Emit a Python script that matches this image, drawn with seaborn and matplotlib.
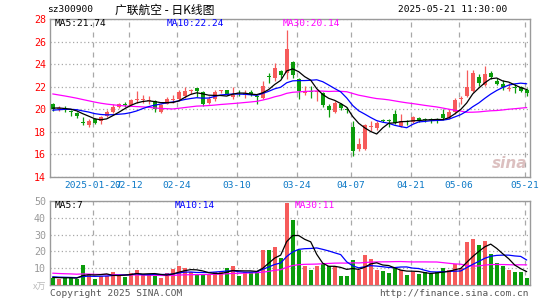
import numpy as np
import pandas as pd
import matplotlib
matplotlib.use("Agg")
import matplotlib.pyplot as plt
import seaborn as sns

sns.set_theme(style="white")
plt.rcParams["font.family"] = ["DejaVu Sans Mono", "Noto Sans CJK SC"]

# daily candles, 2025-01-16 .. 2025-05-21
opens = [20.45, 20.05, 20.05, 19.85, 19.7, 18.85, 18.6, 19.1, 19.0, 19.4,
         19.8, 20.2, 20.45, 20.4, 20.85, 20.8, 20.75, 20.75, 19.8, 20.5,
         20.85, 20.95, 21.2, 21.65, 21.85, 21.55, 20.6, 20.9, 21.6, 21.7,
         21.05, 21.45, 21.3, 21.5, 21.15, 21.0, 22.9, 22.8, 23.4, 23.2,
         24.2, 22.65, 21.45, 21.6, 21.5, 21.4, 20.3, 19.8, 20.5, 20.0,
         18.4, 16.45, 16.45, 18.4, 18.3, 19.05, 19.0, 19.55, 18.55, 18.95,
         18.85, 19.25, 19.1, 19.1, 19.1, 19.6, 19.25, 19.75, 20.95, 21.2,
         21.6, 22.85, 22.15, 23.25, 22.55, 22.25, 21.8, 21.95, 22.0, 21.75]
highs = [20.6, 20.3, 20.25, 19.9, 19.8, 19.3, 19.1, 19.25, 19.4, 19.9,
         20.45, 20.6, 20.65, 20.9, 21.6, 21.25, 21.2, 20.8, 20.45, 21.1,
         21.3, 21.75, 22.0, 21.8, 21.9, 21.65, 21.2, 21.75, 21.75, 21.75,
         22.0, 21.7, 21.7, 21.75, 21.3, 22.5, 23.25, 24.1, 23.5, 27.05,
         24.3, 22.75, 22.05, 22.1, 21.75, 21.5, 20.45, 20.75, 20.6, 20.2,
         19.0, 17.5, 18.7, 18.97, 19.0, 19.1, 19.1, 19.95, 19.55, 19.05,
         19.4, 19.35, 19.25, 19.25, 19.25, 20.0, 20.0, 21.0, 21.2, 23.45,
         23.45, 23.1, 23.8, 23.4, 22.8, 22.6, 22.35, 22.2, 22.1, 21.9]
lows = [19.85, 19.85, 19.75, 19.4, 19.2, 18.6, 18.45, 18.7, 18.7, 19.3,
        19.7, 20.1, 20.2, 20.3, 20.6, 20.6, 20.5, 19.8, 19.7, 20.45,
        20.55, 20.75, 21.0, 21.35, 21.05, 20.3, 20.45, 20.7, 21.4, 21.25,
        20.95, 21.2, 21.0, 21.2, 20.45, 20.9, 22.35, 22.5, 22.75, 22.65,
        22.8, 20.9, 21.3, 21.0, 20.7, 20.2, 19.3, 19.7, 19.95, 19.7,
        15.9, 16.3, 16.4, 18.1, 18.2, 18.85, 18.45, 18.7, 18.45, 18.65,
        18.75, 18.9, 18.9, 18.75, 18.75, 19.05, 19.1, 19.6, 20.5, 21.1,
        21.55, 22.05, 22.05, 22.65, 22.15, 21.75, 21.6, 21.4, 21.5, 21.2]
closes = [20.05, 20.1, 19.95, 19.8, 19.4, 18.8, 19.0, 18.8, 19.35, 19.8,
          20.2, 20.5, 20.4, 20.8, 20.9, 20.85, 20.8, 20.05, 20.35, 20.9,
          20.9, 21.5, 21.6, 21.7, 21.6, 20.45, 20.9, 21.5, 21.65, 21.35,
          21.3, 21.4, 21.45, 21.25, 21.1, 22.1, 22.85, 23.7, 23.05, 25.3,
          23.0, 21.6, 21.5, 21.5, 21.55, 20.4, 19.9, 20.6, 20.1, 19.9,
          16.3, 16.9, 18.6, 18.45, 18.8, 19.0, 18.95, 18.8, 18.95, 18.9,
          19.3, 19.05, 19.05, 19.05, 19.05, 19.25, 19.8, 20.8, 21.0, 21.95,
          23.25, 22.35, 23.15, 22.85, 22.25, 21.95, 21.85, 21.9, 21.65, 21.4]
# volume, 10k lots
vol = [4.4, 3.6, 4.4, 4.4, 3.6, 11.9, 6.3, 3.6, 5.6, 5.6,
       7.7, 5.6, 5.0, 6.9, 8.9, 6.3, 6.3, 5.6, 4.4, 6.9,
       9.5, 11.5, 10.3, 7.5, 6.3, 6.3, 6.3, 7.9, 7.5, 9.9,
       11.5, 5.6, 7.5, 7.5, 8.3, 20.8, 20.8, 22.8, 16.3, 48.6,
       38.7, 20.8, 11.5, 8.9, 11.5, 12.3, 11.5, 11.5, 5.6, 5.6,
       14.9, 8.9, 17.9, 15.5, 8.9, 8.3, 7.3, 10.9, 8.9, 6.0,
       7.9, 6.5, 7.5, 6.3, 7.9, 9.9, 8.9, 12.3, 10.3, 25.8,
       27.4, 23.8, 26.2, 18.5, 13.1, 11.5, 8.9, 7.5, 7.5, 4.4]
# sessions before the window, estimated so the moving averages start where they do
prev_close = [22.8, 22.6, 22.7, 22.5, 22.3, 22.4, 22.2, 22.3, 22.2,
              22.0, 22.1, 21.9, 21.8, 21.6, 21.7, 21.9, 21.8, 21.6, 21.5, 21.7,
              19.7, 19.6, 19.8, 19.7, 19.9, 20.0, 20.2, 20.1, 20.15]
prev_vol = [9.5, 8.2, 7.6, 8.8, 7.4, 9.1, 8.0, 7.2, 8.5, 7.9,
            8.3, 7.7, 8.6, 7.5, 8.1, 7.8, 8.4, 7.6, 7.7, 8.1,
            5.8, 5.2, 5.5, 4.9, 5.1, 4.2, 4.8, 4.5, 4.6]

tick_idx = [7, 13, 21, 31, 41, 50, 60, 68, 79]
tick_labels = ["2025-01-27", "02-12", "02-24", "03-10", "03-24",
               "04-07", "04-21", "05-06", "05-21"]

RED = "#f65b5b"
GREEN = "#0b9c0b"
GRID = "#a8a8a8"
FRAME = "#9a9a9a"

df = pd.DataFrame({"idx": np.arange(len(closes)), "o": opens, "h": highs,
                   "l": lows, "c": closes, "vol": vol})
df["dir"] = np.where(df.c >= df.o, "up", "down")
full_c = pd.Series(prev_close + closes)
full_v = pd.Series(prev_vol + vol)
for w in (5, 10, 30):
    df[f"ma{w}"] = full_c.rolling(w).mean().iloc[len(prev_close):].values
    df[f"vma{w}"] = full_v.rolling(w).mean().iloc[len(prev_vol):].values

W, H = 545, 300
fig = plt.figure(figsize=(W / 100, H / 100), dpi=100)
fig.patch.set_facecolor("white")
ax = fig.add_axes([50 / W, 123 / H, 480 / W, 158 / H])
axv = fig.add_axes([50 / W, 15 / H, 480 / W, 84 / H])

# candles
cols = np.where(df.dir == "up", RED, GREEN)
ax.vlines(df.idx, df.l, df.h, colors=cols, lw=0.9, zorder=3)
body_lo = np.minimum(df.o, df.c)
body_h = np.maximum((df.c - df.o).abs(), 0.08)
ax.bar(df.idx, body_h, bottom=body_lo, width=0.68, color=cols, lw=0, zorder=3)

for col, c in (("ma30", "#ff00ff"), ("ma10", "#0000ff"), ("ma5", "black")):
    sns.lineplot(data=df, x="idx", y=col, color=c, lw=0.9, ax=ax, zorder=4)

# volume
sns.barplot(data=df, x="idx", y="vol", hue="dir",
            palette={"up": RED, "down": GREEN}, native_scale=True,
            dodge=False, width=0.72, saturation=1, linewidth=0,
            legend=False, ax=axv, zorder=3)
for col, c in (("vma30", "#ff00ff"), ("vma10", "#0000ff"), ("vma5", "black")):
    sns.lineplot(data=df, x="idx", y=col, color=c, lw=0.9, ax=axv, zorder=4)

xt = np.array(tick_idx) - 0.35
for a in (ax, axv):
    a.set_xlim(-0.45, 79.55)
    a.set_xlabel("")
    a.set_ylabel("")
    a.set_xticks(xt)
    a.xaxis.grid(True, ls=(0, (4, 4)), color=GRID, lw=0.9)
    a.yaxis.grid(True, ls=(0, (1, 2)), color=GRID, lw=0.9)
    a.set_axisbelow(True)
    for s in a.spines.values():
        s.set_color(FRAME)
        s.set_linewidth(1.0)

ax.set_ylim(14, 28)
ax.set_yticks(range(14, 29, 2))
ax.set_xticklabels(tick_labels)
ax.tick_params(axis="x", length=0, pad=3, labelsize=6.8, labelcolor="#0b78c6")
ax.tick_params(axis="y", length=0, pad=3, labelsize=7.2, labelcolor="#ff0000")

axv.set_ylim(0, 50)
axv.set_yticks([10, 20, 30, 40, 50])
axv.set_xticklabels([])
axv.tick_params(axis="x", length=0)
axv.tick_params(axis="y", length=0, pad=3, labelsize=7.2, labelcolor="#999999")


def ftext(x, y, s, **kw):
    kw.setdefault("fontsize", 6.8)
    kw.setdefault("va", "center")
    fig.text(x / W, 1 - y / H, s, **kw)


ftext(47, 10, "sz300900", color="black")
ftext(115, 10, "广联航空 - 日K线图", color="black", fontsize=8.5,
      family=["Noto Sans CJK SC", "DejaVu Sans"])
ftext(507, 10, "2025-05-21 11:30:00", color="black", ha="right")

ftext(55, 24, "MA5:21.74", color="black")
ftext(167, 24, "MA10:22.24", color="#0000ff")
ftext(283, 24, "MA30:20.14", color="#ff00ff")

ftext(55, 206, "MA5:7", color="black")
ftext(175, 206, "MA10:14", color="#0000ff")
ftext(295, 206, "MA30:11", color="#ff00ff")

ftext(46, 287, "x万", color="#bbbbbb", ha="right", fontsize=6.5,
      family=["Noto Sans CJK SC", "DejaVu Sans"])
ftext(50, 293, "Copyright 2025 SINA.COM", color="#555555")
ftext(529, 293, "http://finance.sina.com.cn", color="#555555", ha="right")

ftext(527, 163, "sina", color="#dcc0c0", ha="right", fontsize=11,
      family="DejaVu Sans", style="italic", weight="bold")

fig.savefig("out.png", dpi=100, facecolor="white")
